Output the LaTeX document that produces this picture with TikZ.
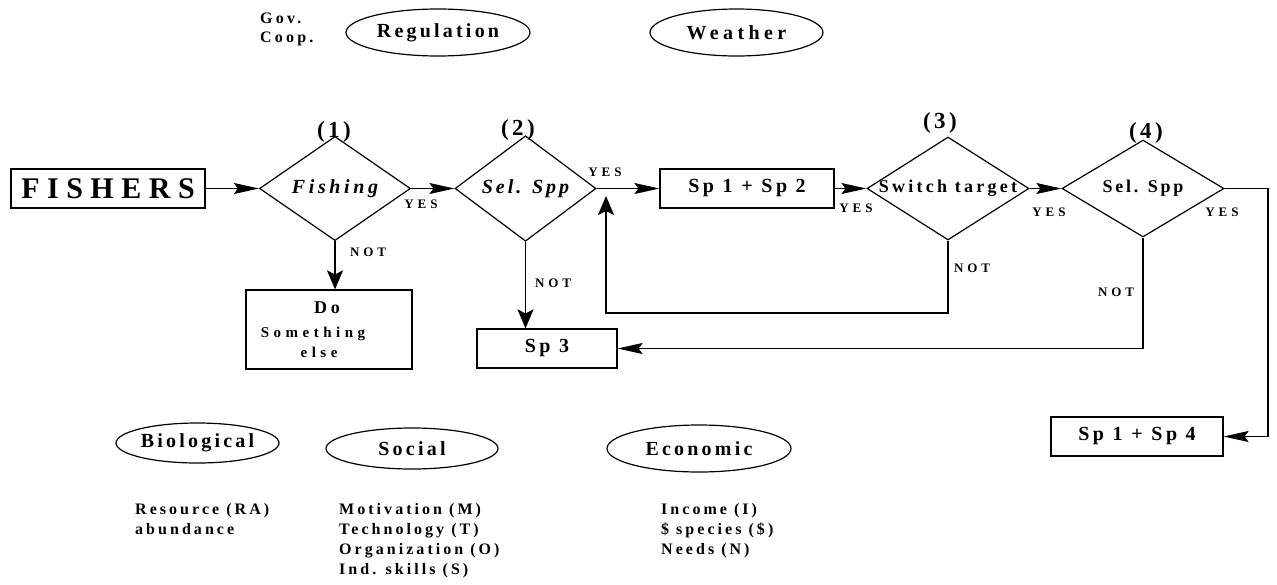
\documentclass[tikz,border=0pt]{standalone}
\usepackage{fontspec}
\setmainfont{Liberation Serif}
\usetikzlibrary{shapes.geometric,arrows.meta}
\newcommand{\fs}[3]{\fontsize{#1}{#2}\selectfont\bfseries\addfontfeature{LetterSpace=#3}}
\newcommand{\fsi}[3]{\fontsize{#1}{#2}\selectfont\bfseries\itshape\addfontfeature{LetterSpace=#3}}
\tikzset{
  every node/.style={inner sep=0pt},
  ln/.style={line width=1.2pt},
  box/.style={draw, ln, rectangle, minimum height=39},
  dia/.style={draw, ln, diamond},
  ell/.style={draw, ln, ellipse},
  ha/.style={ln, -{Stealth[length=25pt,width=11pt,inset=4pt]}},
  va/.style={ln, -{Stealth[length=19pt,width=16pt,inset=4pt]}},
  yn/.style={font=\fs{13}{13}{30}},
  num/.style={font=\fs{23}{23}{15}},
  boxtxt/.style={font=\fs{20}{20}{18}},
  elltxt/.style={font=\fs{20}{20}{16}},
  listtxt/.style={anchor=north west, align=left, font=\fs{16}{20}{19}},
}
\begin{document}
\begin{tikzpicture}[x=1pt,y=-1pt]
\useasboundingbox (0,0) rectangle (1277,584);
% top
\node[anchor=west, align=left, font=\fs{16}{19}{20}] (gov) at (260,29) {Gov.\\Coop.};
\node[ell, elltxt, minimum width=184, minimum height=47] (reg) at (438,32.5) {Regulation};
\node[ell, font=\fs{20}{20}{22}, minimum width=173, minimum height=47] (wea) at (736.5,32.5) {Weather};
% main row
\node[box, minimum width=194, font=\fs{30}{30}{25}] (fishers) at (108,188.5) {FISHERS};
\node[dia, minimum width=151, minimum height=87, font=\fsi{20}{20}{18}] (d1) at (335,188.5) {Fishing};
\node[num] (n1) at (334,132) {(1)};
\node[dia, minimum width=141, minimum height=87, font=\fsi{20}{20}{15}] (d2) at (525.5,188.5) {Sel. Spp};
\node[num] (n2) at (518,130) {(2)};
\node[box, boxtxt, minimum width=174] (sp12) at (747,188.5) {Sp 1 + Sp 2};
\node[dia, minimum width=162, minimum height=103] (d3) at (948,188.5) {};
\node[font=\fs{18}{18}{18}] (d3t) at (d3.center) {Switch target};
\node[num] (n3) at (940,123) {(3)};
\node[dia, minimum width=162, minimum height=87, font=\fs{18}{18}{15}] (d4) at (1143,188.5) {Sel. Spp};
\node[num] (n4) at (1146,133) {(4)};
% lower boxes
\node[box, minimum width=166, minimum height=79, align=center, font=\fs{15}{20}{30}] (do) at (329,329.5)
  {{\fs{18}{20}{20}Do\rule{4pt}{0pt}}\\[4pt]Something\rule{32pt}{0pt}\\else\rule{20pt}{0pt}};
\node[box, boxtxt, minimum width=140] (sp3) at (547,348.5) {Sp 3};
\node[box, boxtxt, minimum width=172] (sp14) at (1137,436.5) {Sp 1 + Sp 4};
% connectors
\draw[ha] (fishers) -- (d1);
\draw[ha] (d1) -- (d2);
\draw[ha] (d2) -- (sp12);
\draw[ha] (sp12) -- (d3);
\draw[ha] (d3) -- (d4);
\coordinate (c4) at (1268,188.5);
\draw[ha] (d4.east) -- (c4) |- (sp14.east);
\draw[va] (d1.south) -- (d1.south |- do.north);
\draw[va] (d2.south) -- (d2.south |- sp3.north);
\coordinate (lp) at (606,313);
\coordinate (lpend) at (606,196);
\draw[va] (d3.south) |- (lp) -- (lpend);
\draw[ha] (d4.south) |- (sp3.east);
% yes / not labels
\node[yn] (y1) at (421,204) {YES};
\node[yn] (no1) at (368,252) {NOT};
\node[yn] (y2) at (605,172) {YES};
\node[yn] (no2) at (553,283) {NOT};
\node[yn] (y3) at (856,208) {YES};
\node[yn, anchor=west] (no3) at (954,268) {NOT};
\node[yn] (y4) at (1049,212) {YES};
\node[yn] (y5) at (1222,212) {YES};
\node[yn] (no4) at (1116,292) {NOT};
% bottom factors
\node[ell, elltxt, minimum width=163, minimum height=40] (bio) at (197.5,443) {Biological};
\node[ell, elltxt, minimum width=172, minimum height=41] (soc) at (412,448.5) {Social};
\node[ell, elltxt, minimum width=184, minimum height=47] (eco) at (699,448.5) {Economic};
\node[listtxt] (biol) at (135,503) {Resource (RA)\\abundance};
\node[listtxt] (socl) at (339,503) {Motivation (M)\\Technology (T)\\Organization (O)\\Ind. skills (S)};
\node[listtxt] (ecol) at (661,503) {Income (I)\\\$ species (\$)\\Needs (N)};
\end{tikzpicture}
\end{document}
